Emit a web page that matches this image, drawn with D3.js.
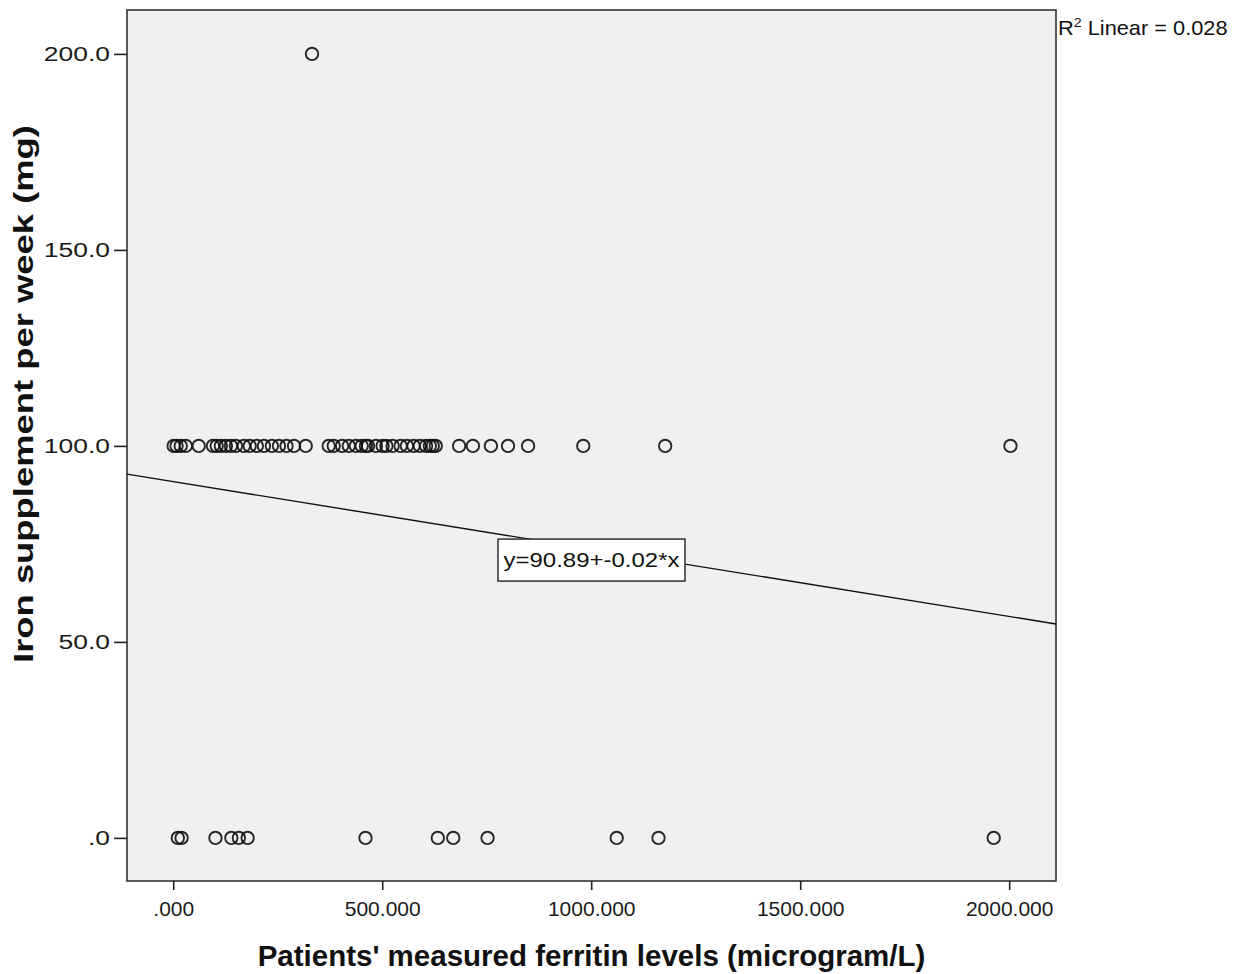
<!DOCTYPE html>
<html>
<head>
<meta charset="utf-8">
<script src="https://cdn.jsdelivr.net/npm/d3@7"></script>
<style>
  body { margin: 0; background: #fff; }
  svg { display: block; font-family: "Liberation Sans", Arial, sans-serif; }
</style>
</head>
<body>
<div id="chart"></div>
<script>
// Ferritin (microgram/L) for each iron supplement group (mg per week)
const ferritinAt200 = [332];
const ferritinAt100 = [1, 8, 18, 30, 61, 95, 104, 114, 126, 138, 150, 169, 183, 200, 217, 236,
  253, 271, 289, 317, 372, 384, 404, 420, 437, 451, 461, 466, 485, 501, 510, 525, 544, 559,
  575, 590, 605, 614, 621, 628, 684, 717, 760, 801, 849, 981, 1177, 2003];
const ferritinAt0 = [11, 20, 101, 139, 157, 178, 460, 633, 670, 752, 1061, 1161, 1963];
const ironLevels = [200, 100, 0];

const xTicks = [0, 500, 1000, 1500, 2000];
const yTicks = [0, 50, 100, 150, 200];

// fit line drawn by SPSS
const fitIntercept = 90.89;
const fitSlope = -0.0172;
const fitLabel = "y=90.89+-0.02*x";
const rSquared = "0.028";

const xTitle = "Patients' measured ferritin levels (microgram/L)";
const yTitle = "Iron supplement per week (mg)";

const width = 1239, height = 974;
const margin = { top: 10, right: 183, bottom: 93, left: 127 };

const svg = d3.select("#chart").append("svg")
    .attr("width", width)
    .attr("height", height);

const x = d3.scaleLinear()
    .domain([-110.6, 2112])
    .range([margin.left, width - margin.right]);

const y = d3.scaleLinear()
    .domain([-11, 211.2])
    .range([height - margin.bottom, margin.top]);

const trimZero = s => s.replace(/^0\./, ".");

// plot background
svg.append("rect")
    .attr("x", margin.left)
    .attr("y", margin.top)
    .attr("width", x.range()[1] - x.range()[0])
    .attr("height", y.range()[0] - y.range()[1])
    .attr("fill", "#f0f0f0")
    .attr("stroke", "#333")
    .attr("stroke-width", 1.6);

// x axis
const xAxis = svg.append("g")
    .attr("transform", `translate(0,${y.range()[0]})`)
    .call(d3.axisBottom(x).tickValues(xTicks).tickSize(9).tickPadding(11)
        .tickFormat(d => trimZero(d3.format(".3f")(d))));
xAxis.select(".domain").remove();
xAxis.selectAll("line").attr("stroke", "#222").attr("stroke-width", 1.6);
xAxis.selectAll("text")
    .attr("fill", "#1a1a1a")
    .style("font-size", "21px")
    .style("font-family", "'Liberation Sans', Arial, sans-serif");

// y axis, labels are a bit wider in the original
const yAxis = svg.append("g")
    .attr("transform", `translate(${x.range()[0]},0)`)
    .call(d3.axisLeft(y).tickValues(yTicks).tickSize(13).tickFormat(() => ""));
yAxis.select(".domain").remove();
yAxis.selectAll("line").attr("stroke", "#222").attr("stroke-width", 1.6);

svg.append("g").selectAll("text")
    .data(yTicks)
    .join("text")
    .attr("transform", d => `translate(${x.range()[0] - 17},${y(d) + 7.5}) scale(1.26,1)`)
    .attr("text-anchor", "end")
    .attr("fill", "#1a1a1a")
    .style("font-size", "21px")
    .text(d => trimZero(d3.format(".1f")(d)));

// regression line
svg.append("line")
    .attr("x1", x(x.domain()[0]))
    .attr("y1", y(fitIntercept + fitSlope * x.domain()[0]))
    .attr("x2", x(x.domain()[1]))
    .attr("y2", y(fitIntercept + fitSlope * x.domain()[1]))
    .attr("stroke", "#111")
    .attr("stroke-width", 1.4);

// points
const groups = [ferritinAt200, ferritinAt100, ferritinAt0];
const points = groups.flatMap((vals, i) => vals.map(v => ({ ferritin: v, iron: ironLevels[i] })));

svg.append("g").selectAll("circle")
    .data(points)
    .join("circle")
    .attr("cx", d => x(d.ferritin))
    .attr("cy", d => y(d.iron))
    .attr("r", 6.2)
    .attr("fill", "none")
    .attr("stroke", "#111")
    .attr("stroke-opacity", 0.9)
    .attr("stroke-width", 1.9);

// equation label at the middle of the plot, under the line
const midX = (x.domain()[0] + x.domain()[1]) / 2;
const labelX = x(midX);
const labelY = y(fitIntercept + fitSlope * midX) + 11;
const label = svg.append("g");
const labelBox = label.append("rect");
const labelText = label.append("text")
    .attr("transform", `translate(${labelX},${labelY + 7}) scale(1.23,1)`)
    .attr("text-anchor", "middle")
    .attr("fill", "#111")
    .style("font-size", "19.5px")
    .text(fitLabel);
const tw = labelText.node().getBBox().width * 1.23;
labelBox
    .attr("x", labelX - tw / 2 - 5.5)
    .attr("y", labelY - 21)
    .attr("width", tw + 11)
    .attr("height", 42)
    .attr("fill", "#fff")
    .attr("stroke", "#222")
    .attr("stroke-width", 1.4);

// R squared note
const r2 = svg.append("text")
    .attr("transform", `translate(${x.range()[1] + 2},35) scale(1.09,1)`)
    .attr("fill", "#111")
    .style("font-size", "20px");
r2.append("tspan").text("R");
r2.append("tspan").attr("dy", -8).style("font-size", "13px").text("2");
r2.append("tspan").attr("dy", 8).text(" Linear = " + rSquared);

// axis titles
svg.append("text")
    .attr("x", (x.range()[0] + x.range()[1]) / 2)
    .attr("y", 966)
    .attr("text-anchor", "middle")
    .attr("fill", "#111")
    .style("font-size", "29.5px")
    .style("font-weight", "bold")
    .text(xTitle);

svg.append("text")
    .attr("transform", `translate(33,394) rotate(-90) scale(1.3,1)`)
    .attr("text-anchor", "middle")
    .attr("fill", "#111")
    .style("font-size", "28px")
    .style("font-weight", "bold")
    .text(yTitle);
</script>
</body>
</html>
